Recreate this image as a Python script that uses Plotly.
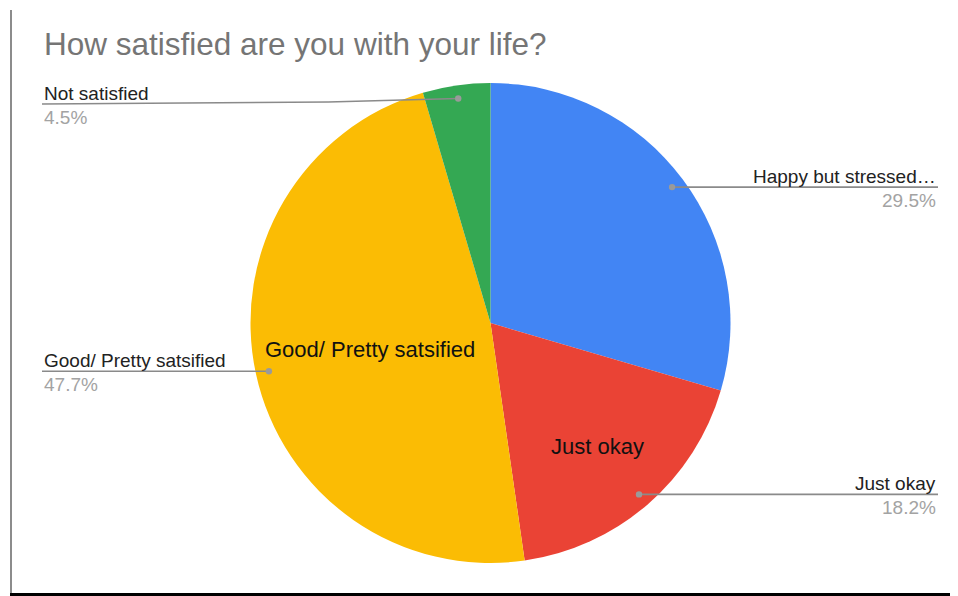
import math
import plotly.graph_objects as go

# ---- data ----
categories = ["Happy but stressed…", "Just okay", "Good/ Pretty satsified", "Not satisfied"]
counts = [13, 8, 21, 2]
colors = ["#4285F4", "#EA4335", "#FBBC04", "#34A853"]
inside_labels = ["", "Just okay", "Good/ Pretty satsified", ""]
title_text = "How satisfied are you with your life?"

W, H = 958, 596
OFF = 8  # page body margin
FW, FH = W - OFF, H - OFF
CX, CY, R = 490.5, 323.0, 240.0


def px(x):
    return (x - OFF) / FW


def py(y):
    return 1 - (y - OFF) / FH


fig = go.Figure(go.Pie(
    labels=categories,
    values=counts,
    sort=False,
    direction="clockwise",
    rotation=0,
    marker=dict(colors=colors, line=dict(width=0)),
    textinfo="none",
    hoverinfo="label+percent",
    showlegend=False,
    domain=dict(x=[px(CX - R), px(CX + R)], y=[py(CY + R), py(CY - R)]),
))

total = sum(counts)
annotations = []
shapes = []
inside_r = {1: 0.68, 2: 0.515}
cum = 0
for i, (lab, v) in enumerate(zip(categories, counts)):
    mid = 2 * math.pi * (cum + v / 2) / total
    cum += v
    pct = f"{100 * v / total:.1f}%"
    s, c = math.sin(mid), math.cos(mid)
    dx_, dy_ = CX + 0.945 * R * s, CY - 0.945 * R * c
    right = s > 0
    line_y = max(dy_, 104)
    lx = 938 if right else 42
    # leader line
    if abs(line_y - dy_) > 0.5:
        kx = dx_ - 130
        path = f"M {px(lx)},{py(line_y)} L {px(kx)},{py(line_y - 2)} L {px(dx_)},{py(dy_)}"
    else:
        path = f"M {px(lx)},{py(line_y)} L {px(dx_)},{py(dy_)}"
    shapes.append(dict(type="path", xref="paper", yref="paper", path=path,
                       line=dict(color="#8a8a8a", width=1.6)))
    shapes.append(dict(type="circle", xref="paper", yref="paper",
                       x0=px(dx_ - 3.2), x1=px(dx_ + 3.2), y0=py(dy_ + 3.2), y1=py(dy_ - 3.2),
                       fillcolor="#9a9a9a", line=dict(width=0)))
    annotations.append(dict(x=px(lx), y=py(line_y - 11), xref="paper", yref="paper",
                            text=lab, showarrow=False,
                            xanchor="right" if right else "left", yanchor="middle",
                            font=dict(family="Arial, Liberation Sans, sans-serif", size=19, color="#222222")))
    annotations.append(dict(x=px(lx), y=py(line_y + 13), xref="paper", yref="paper",
                            text=pct, showarrow=False,
                            xanchor="right" if right else "left", yanchor="middle",
                            font=dict(family="Arial, Liberation Sans, sans-serif", size=19, color="#a3a3a3")))
    if inside_labels[i]:
        rr = inside_r.get(i, 0.6) * R
        annotations.append(dict(x=px(CX + rr * s), y=py(CY - rr * c), xref="paper", yref="paper",
                                text=inside_labels[i], showarrow=False,
                                xanchor="center", yanchor="middle",
                                font=dict(family="Arial, Liberation Sans, sans-serif", size=22, color="#111111")))

annotations.append(dict(x=px(42), y=py(44), xref="paper", yref="paper", text=title_text,
                        showarrow=False, xanchor="left", yanchor="middle",
                        font=dict(family="Arial, Liberation Sans, sans-serif", size=31.5, color="#757575")))

# screenshot frame: left border and dark bottom edge
shapes.append(dict(type="line", xref="paper", yref="paper", x0=px(11), x1=px(11), y0=py(593), y1=py(10),
                   line=dict(color="#8c8c8c", width=2)))
shapes.append(dict(type="rect", xref="paper", yref="paper", x0=px(10), x1=1, y0=0, y1=py(593),
                   fillcolor="#000000", line=dict(width=0)))

fig.update_layout(
    width=FW, height=FH,
    margin=dict(l=0, r=0, t=0, b=0),
    paper_bgcolor="white",
    plot_bgcolor="white",
    annotations=annotations,
    shapes=shapes,
)

fig.write_html("out.html")
